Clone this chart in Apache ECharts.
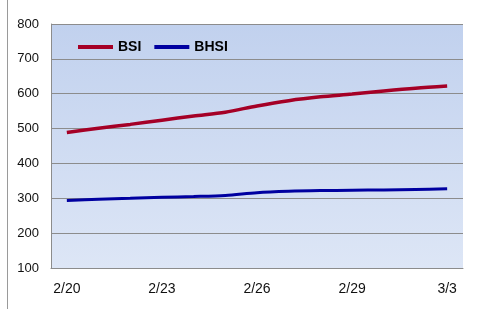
<!DOCTYPE html>
<html><head><meta charset="utf-8">
<script src="https://cdn.jsdelivr.net/npm/echarts@6/dist/echarts.min.js"></script>
<style>html,body{margin:0;padding:0;background:#fff}#c{width:481px;height:309px}</style>
</head><body><div id="c"></div>
<script>
const categories = ['2/20','2/21','2/22','2/23','2/24','2/25','2/26','2/27','2/28','2/29','3/1','3/2','3/3'];
const bsi  = [489, 501, 512, 524, 536, 547, 565, 580, 591, 599, 608, 616, 622];
const bhsi = [294, 297, 300, 303, 305, 308, 316, 320, 322, 323, 324, 325.5, 327];
const yTicks = {min: 100, max: 800, step: 100};

const chart = echarts.init(document.getElementById('c'), null, {renderer: 'canvas'});
chart.setOption({
  animation: false,
  backgroundColor: '#ffffff',
  graphic: [{
    type: 'line', shape: {x1: 7.5, y1: 0, x2: 7.5, y2: 309},
    style: {stroke: '#9a9a9a', lineWidth: 1}
  }],
  grid: {
    left: 51, right: 18, top: 24, bottom: 41, show: true, borderWidth: 0,
    backgroundColor: {
      type: 'linear', x: 0, y: 0, x2: 0, y2: 1,
      colorStops: [{offset: 0, color: '#c1d1ee'}, {offset: 1, color: '#dde6f6'}]
    }
  },
  legend: {
    left: 73, top: 35, icon: 'rect', itemWidth: 35, itemHeight: 4, itemGap: 13,
    textStyle: {fontFamily: 'Liberation Sans', fontWeight: 'bold', fontSize: 14, color: '#000'},
    data: ['BSI', 'BHSI']
  },
  xAxis: {
    type: 'category', data: categories, boundaryGap: true,
    axisLine: {show: true, lineStyle: {color: '#8c8c8c', width: 1}},
    axisTick: {show: false},
    axisLabel: {interval: 2, margin: 14, fontFamily: 'Liberation Sans', fontSize: 14, color: '#111'},
    splitLine: {show: false}
  },
  yAxis: {
    type: 'value', min: yTicks.min, max: yTicks.max, interval: yTicks.step,
    axisLine: {show: true, lineStyle: {color: '#8c8c8c', width: 1}},
    axisTick: {show: false},
    axisLabel: {margin: 12, fontFamily: 'Liberation Sans', fontSize: 13, color: '#111'},
    splitLine: {show: true, lineStyle: {color: '#8c8c8c', width: 1}}
  },
  series: [
    {name: 'BSI', type: 'line', data: bsi, smooth: 0.3, showSymbol: false,
     lineStyle: {color: '#a50026', width: 3.5}, itemStyle: {color: '#a50026'}},
    {name: 'BHSI', type: 'line', data: bhsi, smooth: 0.3, showSymbol: false,
     lineStyle: {color: '#0000a0', width: 3}, itemStyle: {color: '#0000a0'}}
  ]
});
</script></body></html>
